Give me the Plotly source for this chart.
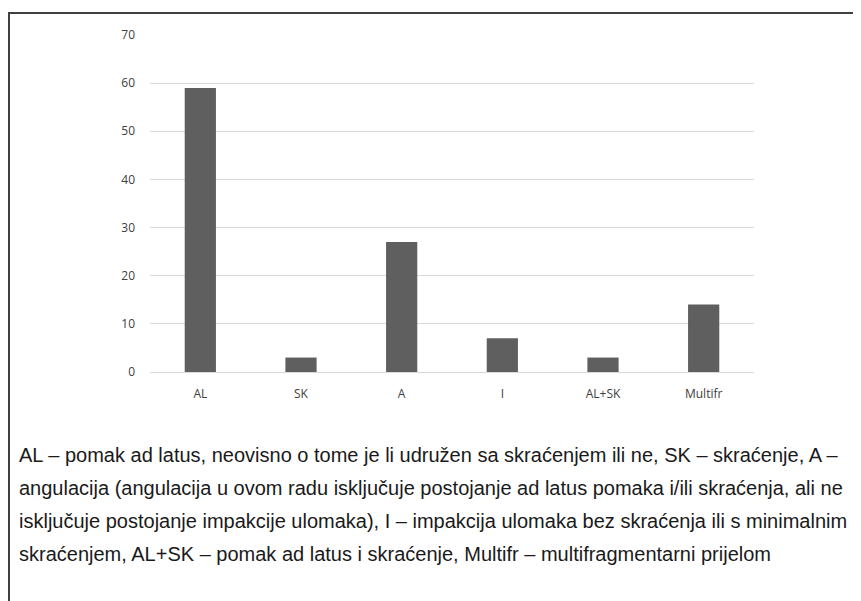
import plotly.graph_objects as go

categories = ["AL", "SK", "A", "I", "AL+SK", "Multifr"]
values = [59, 3, 27, 7, 3, 14]
y_ticks = [0, 10, 20, 30, 40, 50, 60, 70]
caption_lines = [
    "AL – pomak ad latus, neovisno o tome je li udružen sa skraćenjem ili ne, SK – skraćenje, A –",
    "angulacija (angulacija u ovom radu isključuje postojanje ad latus pomaka i/ili skraćenja, ali ne",
    "isključuje postojanje impakcije ulomaka), I – impakcija ulomaka bez skraćenja ili s minimalnim",
    "skraćenjem, AL+SK – pomak ad latus i skraćenje, Multifr – multifragmentarni prijelom",
]

W, H = 861, 601
OFF = 8  # page body margin
L, R, T, B = 150 - OFF, 754 - OFF, 35 - OFF, 372 - OFF  # plot area in figure pixels

def px(x):
    return (x - OFF - L) / (R - L)

def py(y):
    return (B - (y - OFF)) / (B - T)

fig = go.Figure(go.Bar(x=categories, y=values, marker_color="#5f5f5f",
                       marker_line_width=0, width=0.31))

fig.update_layout(
    width=W, height=H,
    margin=dict(l=L, r=W - R, t=T, b=H - B, pad=0),
    paper_bgcolor="white", plot_bgcolor="white",
    showlegend=False,
    font=dict(family="Open Sans, Liberation Sans, sans-serif", size=12, color="#404040"),
)
fig.update_yaxes(range=[0, 70], tickvals=y_ticks, showgrid=True, gridcolor="#d9d9d9",
                 gridwidth=1, zeroline=False, showline=False, ticks="", ticklabelstandoff=14,
                 tickfont=dict(size=12, color="#404040"))
fig.update_xaxes(showline=True, linecolor="#d9d9d9", linewidth=1, ticks="",
                 ticklabelstandoff=11, tickfont=dict(size=12, color="#404040"))

# outer frame
fig.add_shape(type="line", xref="paper", yref="paper", x0=px(8), x1=px(880), y0=py(13), y1=py(13),
              line=dict(color="#404040", width=2))
fig.add_shape(type="line", xref="paper", yref="paper", x0=px(9), x1=px(9), y0=py(13), y1=py(620),
              line=dict(color="#404040", width=2))

for i, line in enumerate(caption_lines):
    fig.add_annotation(text=line, xref="paper", yref="paper", x=px(17), y=py(455 + 33 * i),
                       xanchor="left", yanchor="middle", showarrow=False,
                       font=dict(family="Liberation Sans, Arial, sans-serif", size=20, color="#1a1a1a"))

fig.write_html("out.html")
